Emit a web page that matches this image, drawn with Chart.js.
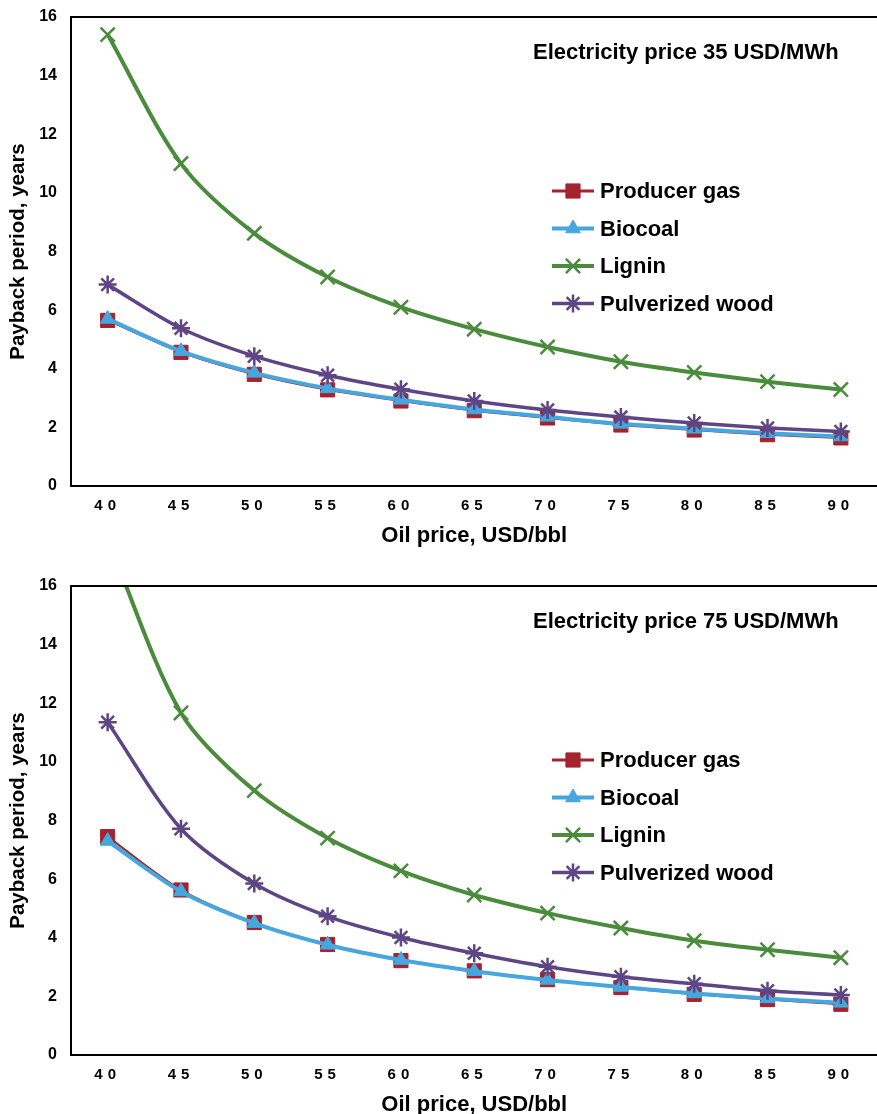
<!DOCTYPE html>
<html>
<head>
<meta charset="utf-8">
<script src="https://cdn.jsdelivr.net/npm/chart.js@4"></script>
<style>
  html, body { margin: 0; padding: 0; background: #fff; overflow: hidden; width: 877px; height: 1114px; }
  canvas { position: absolute; left: 0; }
  #chartTop { top: 0; }
  #chartBottom { top: 569px; }
</style>
</head>
<body>
<canvas id="chartTop" width="890" height="569"></canvas>
<canvas id="chartBottom" width="890" height="569"></canvas>
<script>
// Oil price categories (USD/bbl)
const oilPrices = ['40', '45', '50', '55', '60', '65', '70', '75', '80', '85', '90'];

// Electricity price 35 USD/MWh
const gas35 = [5.65, 4.56, 3.81, 3.28, 2.9, 2.57, 2.32, 2.08, 1.91, 1.75, 1.64];
const biocoal35 = [5.7, 4.6, 3.86, 3.33, 2.94, 2.61, 2.36, 2.12, 1.95, 1.8, 1.69];
const lignin35 = [15.4, 11.0, 8.62, 7.13, 6.1, 5.35, 4.74, 4.24, 3.87, 3.56, 3.29];
const wood35 = [6.87, 5.38, 4.43, 3.78, 3.3, 2.9, 2.59, 2.35, 2.15, 1.98, 1.86];

// Electricity price 75 USD/MWh
const gas75 = [7.45, 5.63, 4.52, 3.77, 3.22, 2.87, 2.57, 2.3, 2.07, 1.89, 1.73];
const biocoal75 = [7.3, 5.58, 4.5, 3.76, 3.24, 2.86, 2.56, 2.32, 2.1, 1.93, 1.78];
const lignin75 = [17.6, 11.67, 9.02, 7.4, 6.28, 5.46, 4.84, 4.33, 3.9, 3.59, 3.32];
const wood75 = [11.35, 7.72, 5.85, 4.73, 4.01, 3.47, 3.01, 2.67, 2.43, 2.19, 2.05];

const seriesNames = ['Producer gas', 'Biocoal', 'Lignin', 'Pulverized wood'];
const FONT = '"Liberation Sans", Arial, sans-serif';

// Draws the in-plot caption, legend and top border, and spaces out x tick digits
const decorPlugin = {
    id: 'decor',
    afterDatasetsDraw(chart) {
        chart.ctx.letterSpacing = '5px';
    },
    afterDraw(chart, args, opts) {
        const ctx = chart.ctx;
        const area = chart.chartArea;
        ctx.letterSpacing = '0px';
        ctx.save();

        // top border of the plot box
        ctx.strokeStyle = '#000';
        ctx.lineWidth = 2;
        ctx.beginPath();
        ctx.moveTo(area.left, area.top);
        ctx.lineTo(area.right, area.top);
        ctx.stroke();

        // caption
        ctx.fillStyle = '#000';
        ctx.font = 'bold 22px ' + FONT;
        ctx.textBaseline = 'middle';
        ctx.textAlign = 'left';
        ctx.fillText(opts.caption, 533, 53);

        // legend
        chart.data.datasets.forEach((ds, i) => {
            const y = 191 + i * 37.5;
            ctx.strokeStyle = ds.borderColor;
            ctx.lineWidth = Math.max(ds.borderWidth, 3);
            ctx.beginPath();
            ctx.moveTo(552, y);
            ctx.lineTo(594, y);
            ctx.stroke();
            ctx.fillStyle = ds.pointBackgroundColor;
            ctx.strokeStyle = ds.pointBorderColor;
            ctx.lineWidth = ds.pointBorderWidth;
            Chart.helpers.drawPoint(ctx, { pointStyle: ds.pointStyle, radius: ds.pointRadius, rotation: 0, borderWidth: ds.pointBorderWidth }, 573, y);
            ctx.fillStyle = '#000';
            ctx.font = 'bold 22px ' + FONT;
            ctx.fillText(ds.label, 600, y + 1);
        });
        ctx.restore();
    }
};

function makeChart(canvasId, caption, gas, biocoal, lignin, wood) {
    const ctx = document.getElementById(canvasId).getContext('2d');
    return new Chart(ctx, {
        type: 'line',
        data: {
            labels: oilPrices,
            datasets: [{
                label: seriesNames[0],
                data: gas,
                borderColor: '#A3232E',
                borderWidth: 2,
                pointStyle: 'rect',
                pointRadius: 10,
                pointBackgroundColor: '#A3232E',
                pointBorderColor: '#A3232E',
                pointBorderWidth: 1,
                order: 4,
            }, {
                label: seriesNames[1],
                data: biocoal,
                borderColor: '#45A7DE',
                borderWidth: 4,
                pointStyle: 'triangle',
                pointRadius: 8.5,
                pointBackgroundColor: '#45A7DE',
                pointBorderColor: '#45A7DE',
                pointBorderWidth: 1,
                order: 3,
            }, {
                label: seriesNames[2],
                data: lignin,
                borderColor: '#4A8C3C',
                borderWidth: 4,
                pointStyle: 'crossRot',
                pointRadius: 10,
                pointBackgroundColor: '#4A8C3C',
                pointBorderColor: '#4A8C3C',
                pointBorderWidth: 2.5,
                order: 2,
            }, {
                label: seriesNames[3],
                data: wood,
                borderColor: '#5E4585',
                borderWidth: 3.5,
                pointStyle: 'star',
                pointRadius: 9,
                pointBackgroundColor: '#5E4585',
                pointBorderColor: '#5E4585',
                pointBorderWidth: 2.5,
                order: 1,
            }],
        },
        options: {
            responsive: false,
            animation: false,
            devicePixelRatio: 1,
            layout: { padding: { top: 17, right: 5, left: 0, bottom: 0 } },
            elements: { line: { tension: 0.3 } },
            plugins: {
                legend: { display: false },
                tooltip: { enabled: false },
                decor: { caption: caption },
            },
            scales: {
                x: {
                    offset: true,
                    grid: { display: false, drawTicks: false },
                    border: { color: '#000', width: 2 },
                    ticks: { color: '#000', font: { family: FONT, size: 15, weight: 'bold' }, padding: 11, z: 1, maxRotation: 0 },
                    title: { display: true, text: 'Oil price, USD/bbl', color: '#000', font: { family: FONT, size: 22, weight: 'bold' }, padding: { top: 0, bottom: 20 } },
                    afterFit(scale) { scale.height = 83; },
                },
                y: {
                    min: 0,
                    max: 16,
                    grid: { display: false, drawTicks: false },
                    border: { color: '#000', width: 2 },
                    ticks: { stepSize: 2, color: '#000', font: { family: FONT, size: 16, weight: 'bold' }, padding: 14 },
                    title: { display: true, text: 'Payback period, years', color: '#000', font: { family: FONT, size: 20.5, weight: 'bold' }, padding: { top: 6, bottom: 0 } },
                    afterFit(scale) {
                        scale.width = 71;
                        scale.paddingTop = 0;
                        scale.paddingBottom = 0;
                    },
                },
            },
        },
        plugins: [decorPlugin],
    });
}

makeChart('chartTop', 'Electricity price 35 USD/MWh', gas35, biocoal35, lignin35, wood35);
makeChart('chartBottom', 'Electricity price 75 USD/MWh', gas75, biocoal75, lignin75, wood75);
</script>
</body>
</html>
